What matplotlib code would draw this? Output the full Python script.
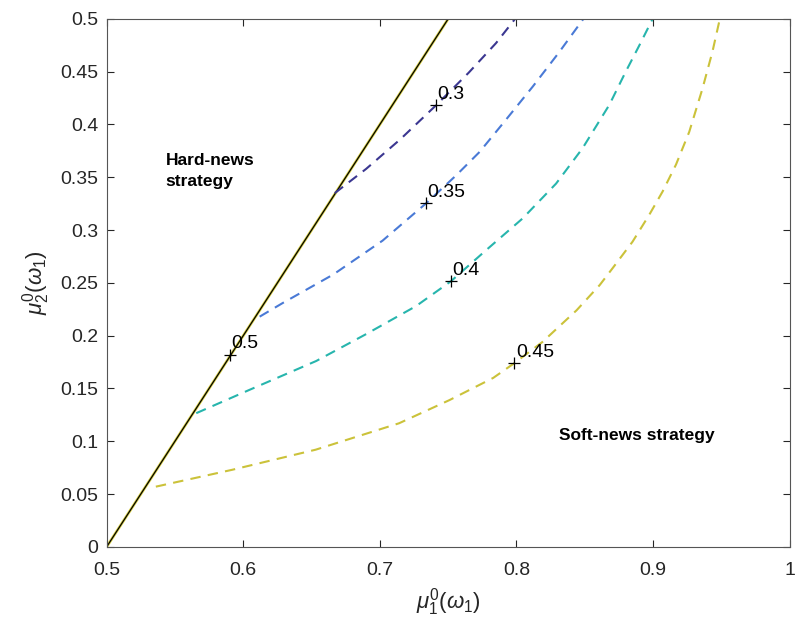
import matplotlib
matplotlib.use('Agg')
import matplotlib.pyplot as plt

plt.rcParams['font.family'] = ['Liberation Sans', 'DejaVu Sans']
plt.rcParams['mathtext.fontset'] = 'custom'
plt.rcParams['mathtext.rm'] = 'Liberation Sans'
plt.rcParams['mathtext.it'] = 'Liberation Sans:italic'

# boundary line (hard-news / soft-news)
boundary_x = [0.5, 0.75]
boundary_y = [0.0, 0.5]

# dashed iso-curves
c30_x = [0.667, 0.690, 0.715, 0.741, 0.765, 0.785, 0.799]
c30_y = [0.335, 0.358, 0.386, 0.418, 0.449, 0.477, 0.500]

c35_x = [0.612, 0.629, 0.666, 0.702, 0.734, 0.756, 0.773, 0.792, 0.812, 0.831, 0.849]
c35_y = [0.218, 0.231, 0.258, 0.290, 0.3255, 0.352, 0.374, 0.404, 0.436, 0.468, 0.500]

c40_x = [0.5656, 0.6046, 0.6534, 0.690, 0.7265, 0.752, 0.7778, 0.8045, 0.829,
         0.8484, 0.868, 0.880, 0.890, 0.8997]
c40_y = [0.1266, 0.1487, 0.176, 0.2015, 0.228, 0.2515, 0.281, 0.311, 0.344,
         0.3775, 0.4186, 0.450, 0.475, 0.500]

c45_x = [0.536, 0.592, 0.653, 0.714, 0.751, 0.783, 0.7985, 0.819, 0.844, 0.861,
         0.8704, 0.885, 0.8972, 0.907, 0.9168, 0.9265, 0.9362, 0.9435, 0.9489]
c45_y = [0.057, 0.073, 0.092, 0.117, 0.139, 0.160, 0.174, 0.194, 0.224, 0.248,
         0.2639, 0.289, 0.3144, 0.3365, 0.362, 0.393, 0.434, 0.469, 0.500]

curve_colors = ['#3b3791', '#4a7ad6', '#27b5ad', '#cbc23a']

# labelled points
mark_x = [0.741, 0.734, 0.752, 0.7985, 0.590]
mark_y = [0.4186, 0.3255, 0.2515, 0.174, 0.182]
mark_lbl = ['0.3', '0.35', '0.4', '0.45', '0.5']

fig = plt.figure(figsize=(7.96, 6.30), dpi=100)
ax = fig.add_axes([0.134, 0.132, 0.858, 0.838])

ax.plot(boundary_x, boundary_y, color='#d8d040', lw=2.0)
ax.plot(boundary_x, boundary_y, color='black', lw=0.9)

for xs, ys, col in zip([c30_x, c35_x, c40_x, c45_x],
                       [c30_y, c35_y, c40_y, c45_y], curve_colors):
    ax.plot(xs, ys, color=col, lw=1.5, ls=(0, (5, 3.5)))

ax.plot(mark_x, mark_y, '+', color='black', ms=9, mew=0.9, ls='none')
for x, y, s in zip(mark_x, mark_y, mark_lbl):
    ax.text(x + 0.001, y + 0.006, s, fontsize=14, ha='left', va='baseline')

ax.text(0.543, 0.356, 'Hard-news\nstrategy', fontsize=12.5, fontweight='bold',
        ha='left', va='center', linespacing=1.45)
ax.text(0.831, 0.105, 'Soft-news strategy', fontsize=12.5, fontweight='bold',
        ha='left', va='center')

ax.set_xlim(0.5, 1.0)
ax.set_ylim(0, 0.5)
ax.set_xticks([0.5, 0.6, 0.7, 0.8, 0.9, 1.0])
ax.set_xticklabels(['0.5', '0.6', '0.7', '0.8', '0.9', '1'])
ax.set_yticks([0, 0.05, 0.1, 0.15, 0.2, 0.25, 0.3, 0.35, 0.4, 0.45, 0.5])
ax.set_yticklabels(['0', '0.05', '0.1', '0.15', '0.2', '0.25', '0.3', '0.35',
                    '0.4', '0.45', '0.5'])
ax.tick_params(direction='in', top=True, right=True, length=5, width=0.8,
               labelsize=14, colors='#262626')
ax.tick_params(axis='x', pad=11)
ax.tick_params(axis='y', pad=6)
for sp in ax.spines.values():
    sp.set_color('#555555')
    sp.set_linewidth(0.8)

ax.set_xlabel(r'$\mu_1^0(\omega_1)$', fontsize=16, color='#262626', labelpad=5)
ax.set_ylabel(r'$\mu_2^0(\omega_1)$', fontsize=16, color='#262626', labelpad=6)

fig.savefig('out.png', dpi=100)
